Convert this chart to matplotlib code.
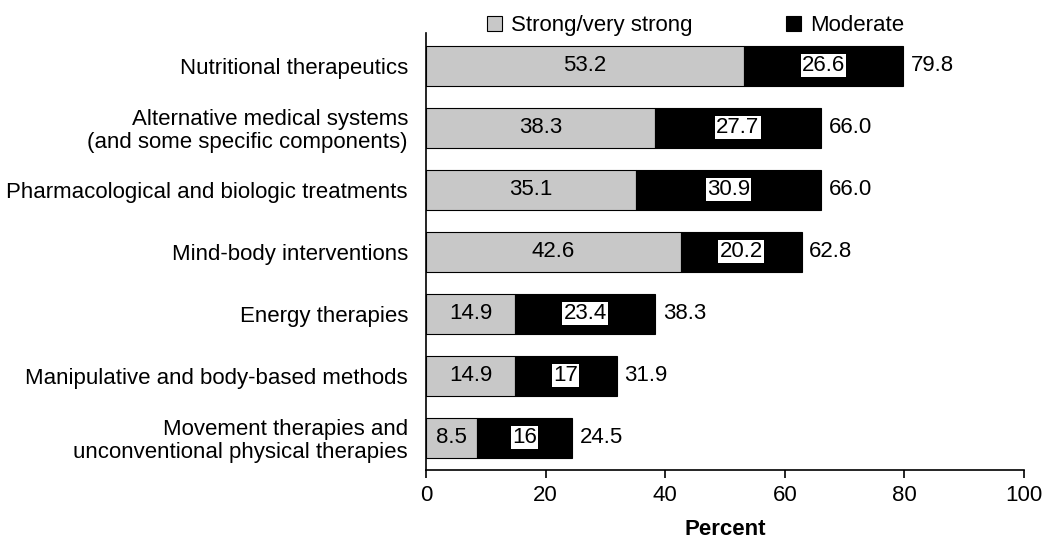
import matplotlib
matplotlib.use("Agg")
from matplotlib import pyplot as plt
from matplotlib.patches import Patch

plt.rcParams["font.family"] = ["Liberation Sans", "DejaVu Sans"]

CATEGORIES = [
    "Nutritional therapeutics",
    "Alternative medical systems\n(and some specific components)",
    "Pharmacological and biologic treatments",
    "Mind-body interventions",
    "Energy therapies",
    "Manipulative and body-based methods",
    "Movement therapies and\nunconventional physical therapies",
]
STRONG = [53.2, 38.3, 35.1, 42.6, 14.9, 14.9, 8.5]
MODERATE = [26.6, 27.7, 30.9, 20.2, 23.4, 17, 16]
STRONG_LABELS = ["53.2", "38.3", "35.1", "42.6", "14.9", "14.9", "8.5"]
MODERATE_LABELS = ["26.6", "27.7", "30.9", "20.2", "23.4", "17", "16"]
TOTAL_LABELS = ["79.8", "66.0", "66.0", "62.8", "38.3", "31.9", "24.5"]
X_TICKS = [0, 20, 40, 60, 80, 100]

GRAY = "#c8c8c8"
FS = 16

fig = plt.figure(figsize=(10.5, 5.45), dpi=100)
ax = fig.add_axes([0.4057, 0.1376, 0.5695, 0.8018])

n = len(CATEGORIES)
ypos = [n - 1 - i for i in range(n)]
height = 0.64

ax.barh(ypos, STRONG, height=height, color=GRAY, edgecolor="black", linewidth=0.8)
ax.barh(ypos, MODERATE, left=STRONG, height=height, color="black",
        edgecolor="black", linewidth=0.8)

for y, s, m, sl, ml, tl in zip(ypos, STRONG, MODERATE, STRONG_LABELS,
                               MODERATE_LABELS, TOTAL_LABELS):
    ax.text(s / 2, y, sl, ha="center", va="center", fontsize=FS)
    ax.text(s + m / 2, y, ml, ha="center", va="center", fontsize=FS,
            bbox=dict(facecolor="white", edgecolor="none", pad=0.8))
    ax.text(s + m + 1.3, y, tl, ha="left", va="center", fontsize=FS)

ax.set_xlim(0, 100)
ax.set_ylim(-0.52, n - 1 + 0.53)
ax.set_xticks(X_TICKS)
ax.set_xticklabels([str(t) for t in X_TICKS], fontsize=FS)
ax.set_yticks(ypos)
ax.set_yticklabels(CATEGORIES, fontsize=FS, linespacing=1.1)
ax.tick_params(axis="y", length=0, pad=13)
ax.tick_params(axis="x", length=6, width=1.2, direction="out", pad=5)
ax.set_xlabel("Percent", fontsize=FS, fontweight="bold", labelpad=9)

for side in ("top", "right"):
    ax.spines[side].set_visible(False)
for side in ("left", "bottom"):
    ax.spines[side].set_linewidth(1.2)

handles = [Patch(facecolor=GRAY, edgecolor="black", linewidth=0.8),
           Patch(facecolor="black", edgecolor="black", linewidth=0.8)]
fig.legend(handles, ["Strong/very strong", "Moderate"], ncol=2,
           loc="center left", bbox_to_anchor=(0.455, 0.953), frameon=False,
           fontsize=FS, handlelength=0.7, handleheight=0.7,
           handletextpad=0.4, columnspacing=4.2, borderaxespad=0)

fig.savefig("out.png", dpi=100)
